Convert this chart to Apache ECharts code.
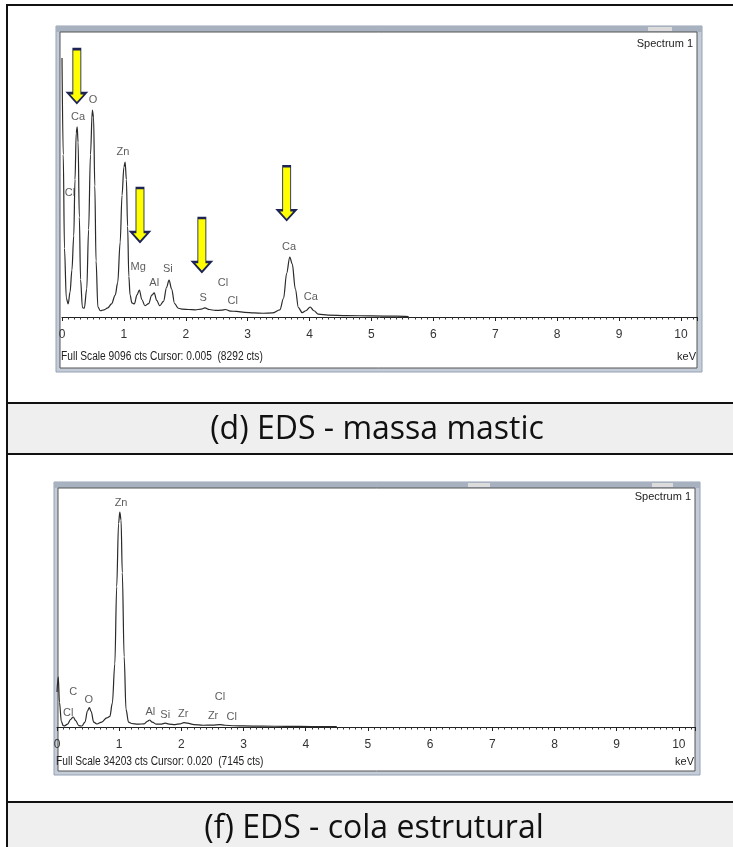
<!DOCTYPE html>
<html>
<head>
<meta charset="utf-8">
<script src="https://cdn.jsdelivr.net/npm/echarts@6/dist/echarts.min.js"></script>
<style>
html,body{margin:0;padding:0;background:#fff;}
#c{width:733px;height:847px;}
</style>
</head>
<body>
<div id="c"></div>
<script>
// ---------- DATA ----------
// Panel (d): EDS spectrum, massa mastic  [keV, counts]
var specD = [
 [0.00,8292],[0.02,5200],[0.04,2200],[0.07,600],[0.10,420],[0.13,800],[0.16,1500],[0.19,2600],
 [0.21,4400],[0.23,5900],[0.245,6090],[0.26,5600],[0.28,3200],[0.30,1200],[0.33,300],[0.36,280],
 [0.40,900],[0.43,2800],[0.46,5200],[0.49,6630],[0.51,6400],[0.53,4200],[0.55,1800],[0.58,320],
 [0.62,200],[0.68,230],[0.74,290],[0.80,420],[0.86,700],[0.90,1100],[0.94,2400],[0.97,3900],
 [1.00,4800],[1.02,4965],[1.04,4400],[1.06,2900],[1.08,1300],[1.10,700],[1.13,450],[1.17,420],
 [1.21,700],[1.25,865],[1.29,560],[1.34,360],[1.40,430],[1.45,700],[1.49,770],[1.53,530],
 [1.58,360],[1.64,500],[1.69,950],[1.73,1185],[1.77,900],[1.82,430],[1.88,280],[1.95,250],
 [2.05,240],[2.15,230],[2.25,250],[2.31,290],[2.38,240],[2.48,210],[2.58,220],[2.64,240],
 [2.72,190],[2.82,180],[2.95,150],[3.10,130],[3.25,120],[3.40,130],[3.52,230],[3.58,600],
 [3.63,1400],[3.68,1920],[3.72,1700],[3.77,900],[3.82,300],[3.88,140],[3.94,200],[4.01,320],
 [4.07,200],[4.14,90],[4.30,60],[4.60,45],[5.00,35],[5.40,25],[5.60,10]
];
var fullScaleD = 9096;
// element labels [keV, counts, text]
var labelsD = [
 [0.13,3972,'Cl'],[0.26,6406,'Ca'],[0.50,6950,'O'],[0.985,5285,'Zn'],[1.23,1600,'Mg'],
 [1.49,1090,'Al'],[1.71,1540,'Si'],[2.28,610,'S'],[2.60,1090,'Cl'],[2.76,510,'Cl'],
 [3.67,2240,'Ca'],[4.02,640,'Ca']
];
// arrow tips [keV, counts]
var arrowsD = [[0.24,6850],[1.26,2400],[2.26,1440],[3.63,3100]];

// Panel (f): EDS spectrum, cola estrutural [keV, counts]
var specF = [
 [0.00,5000],[0.02,7145],[0.04,3500],[0.07,800],[0.10,200],[0.12,150],[0.17,400],[0.22,1100],
 [0.26,1425],[0.30,900],[0.35,200],[0.40,140],[0.45,700],[0.49,2300],[0.52,2750],[0.55,2200],
 [0.59,700],[0.64,430],[0.72,700],[0.80,1300],[0.85,1500],[0.89,3400],[0.93,9000],[0.96,20000],
 [0.99,29000],[1.01,30640],[1.03,29500],[1.05,22000],[1.08,10000],[1.11,2500],[1.15,700],
 [1.20,500],[1.30,400],[1.40,450],[1.46,850],[1.49,1000],[1.53,700],[1.60,400],[1.68,420],
 [1.74,550],[1.80,420],[1.90,350],[1.98,450],[2.04,620],[2.10,550],[2.20,350],[2.35,250],
 [2.50,260],[2.62,330],[2.70,250],[2.85,180],[3.00,150],[3.30,120],[3.70,90],[4.10,70],[4.50,40]
];
var fullScaleF = 34203;
var labelsF = [
 [0.18,1995,'Cl'],[0.26,4990,'C'],[0.51,3850,'O'],[1.03,31920,'Zn'],[1.50,2140,'Al'],
 [1.74,1710,'Si'],[2.03,1850,'Zr'],[2.51,1570,'Zr'],[2.62,4275,'Cl'],[2.81,1425,'Cl']
];

var xTicks = [0,1,2,3,4,5,6,7,8,9,10];
var xMax = 10.26;
var infoD = 'Full Scale 9096 cts Cursor: 0.005  (8292 cts)';
var infoF = 'Full Scale 34203 cts Cursor: 0.020  (7145 cts)';
var captionD = '(d) EDS - massa mastic';
var captionF = '(f) EDS - cola estrutural';

// ---------- CHART ----------
var FONT = "'Liberation Sans Narrow','Arial Narrow','Liberation Sans',Arial,sans-serif";
var CAPFONT = "32px 'Open Sans', Lato, sans-serif";
var chart = echarts.init(document.getElementById('c'), null, {renderer:'canvas'});

function xAxisCfg(gi){
  return {
    gridIndex: gi, type:'value', min:0, max:xMax, interval:1,
    axisLine:{show:true, lineStyle:{color:'#222', width:1}},
    axisTick:{show:true, length:4, lineStyle:{color:'#222'}},
    minorTick:{show:true, splitNumber:10, length:2.5, lineStyle:{color:'#333'}},
    splitLine:{show:false},
    axisLabel:{show:true, margin:12, fontSize:12, color:'#333', fontFamily:FONT,
      formatter:function(v){ return xTicks.indexOf(Math.round(v*1000)/1000) >= 0 ? String(v) : ''; }}
  };
}
function yAxisCfg(gi, mx){
  return {gridIndex:gi, type:'value', min:0, max:mx, show:false, splitLine:{show:false}};
}
function labelSeries(idx, data){
  return {
    type:'scatter', xAxisIndex:idx, yAxisIndex:idx, data:data, symbolSize:0, silent:true, z:5,
    label:{show:true, position:'inside', formatter:function(p){return p.data[2];},
      fontSize:11, color:'#333', fontFamily:FONT}
  };
}
var arrowPath = 'path://M5,0 L13,0 L13,44 L18,44 L9,54 L0,44 L5,44 Z';

// frames (screenshot windows)
function frame(x0,y0,x1,y1, sliders){
  var els = [
    {type:'rect', z:-10, shape:{x:x0,y:y0,width:x1-x0,height:y1-y0}, style:{fill:'#c4ccd8', stroke:'#96a2b3', lineWidth:1}},
    {type:'rect', z:-9, shape:{x:x0,y:y0,width:x1-x0,height:6}, style:{fill:'#a7b1bf'}},
    {type:'rect', z:-8, shape:{x:x0+4,y:y0+6,width:(x1-5)-(x0+4),height:(y1-4)-(y0+6)}, style:{fill:'#ffffff', stroke:'#555', lineWidth:1}}
  ];
  sliders.forEach(function(s){
    els.push({type:'rect', z:-8, shape:{x:s[0],y:y0+1,width:s[1]-s[0],height:4}, style:{fill:'#dcdcdc'}});
  });
  return els;
}

var graphics = [];
// table lines and caption bands
graphics.push({type:'rect', z:-20, shape:{x:8,y:403,width:740,height:51}, style:{fill:'#efefef'}});
graphics.push({type:'rect', z:-20, shape:{x:8,y:802,width:740,height:50}, style:{fill:'#efefef'}});
[[7,5,740,5],[7,403,740,403],[7,454,740,454],[7,802,740,802]].forEach(function(l){
  graphics.push({type:'line', z:20, shape:{x1:l[0],y1:l[1],x2:l[2],y2:l[3]}, style:{stroke:'#111', lineWidth:2}});
});
graphics.push({type:'line', z:20, shape:{x1:7,y1:4,x2:7,y2:847}, style:{stroke:'#111', lineWidth:2}});
graphics = graphics.concat(frame(56,26,702,372,[[648,672]]));
graphics = graphics.concat(frame(54,482,700,775,[[468,490],[652,673]]));
// captions
graphics.push({type:'text', z:20, style:{text:captionD, x:377, y:430, align:'center', verticalAlign:'middle', font:CAPFONT, fill:'#111'}});
graphics.push({type:'text', z:20, style:{text:captionF, x:374, y:829, align:'center', verticalAlign:'middle', font:CAPFONT, fill:'#111'}});
// window texts
graphics.push({type:'text', z:20, x:61, y:357, scaleX:0.85, style:{text:infoD, x:0, y:0, verticalAlign:'middle', font:"12px "+FONT, fill:'#222'}});
graphics.push({type:'text', z:20, x:56, y:762, scaleX:0.85, style:{text:infoF, x:0, y:0, verticalAlign:'middle', font:"12px "+FONT, fill:'#222'}});
graphics.push({type:'text', z:20, style:{text:'Spectrum 1', x:693, y:44, align:'right', verticalAlign:'middle', font:"11px "+FONT, fill:'#222'}});
graphics.push({type:'text', z:20, style:{text:'Spectrum 1', x:691, y:497, align:'right', verticalAlign:'middle', font:"11px "+FONT, fill:'#222'}});
graphics.push({type:'text', z:20, style:{text:'keV', x:696, y:357, align:'right', verticalAlign:'middle', font:"11px "+FONT, fill:'#222'}});
graphics.push({type:'text', z:20, style:{text:'keV', x:694, y:762, align:'right', verticalAlign:'middle', font:"11px "+FONT, fill:'#222'}});

var option = {
  animation:false,
  backgroundColor:'#ffffff',
  graphic: graphics,
  grid:[
    {left:62, top:33, width:635, height:284, show:false},
    {left:57, top:487, width:638, height:240, show:false}
  ],
  xAxis:[xAxisCfg(0), xAxisCfg(1)],
  yAxis:[yAxisCfg(0, fullScaleD), yAxisCfg(1, fullScaleF)],
  series:[
    {type:'line', xAxisIndex:0, yAxisIndex:0, data:specD, showSymbol:false, smooth:0.35, smoothMonotone:'x',
     lineStyle:{color:'#2a2a2a', width:1.2}, z:3, silent:true},
    {type:'line', xAxisIndex:1, yAxisIndex:1, data:specF, showSymbol:false, smooth:0.35, smoothMonotone:'x',
     lineStyle:{color:'#2a2a2a', width:1.2}, z:3, silent:true},
    labelSeries(0, labelsD),
    labelSeries(1, labelsF),
    {type:'scatter', xAxisIndex:0, yAxisIndex:0, data:arrowsD, symbol:arrowPath, symbolKeepAspect:false,
     symbolSize:[18,54], symbolOffset:[0,-27], z:6, silent:true,
     itemStyle:{color:'#ffff00', borderColor:'#1d2455', borderWidth:1.5, opacity:1}}
  ]
};
chart.setOption(option);
</script>
</body>
</html>
